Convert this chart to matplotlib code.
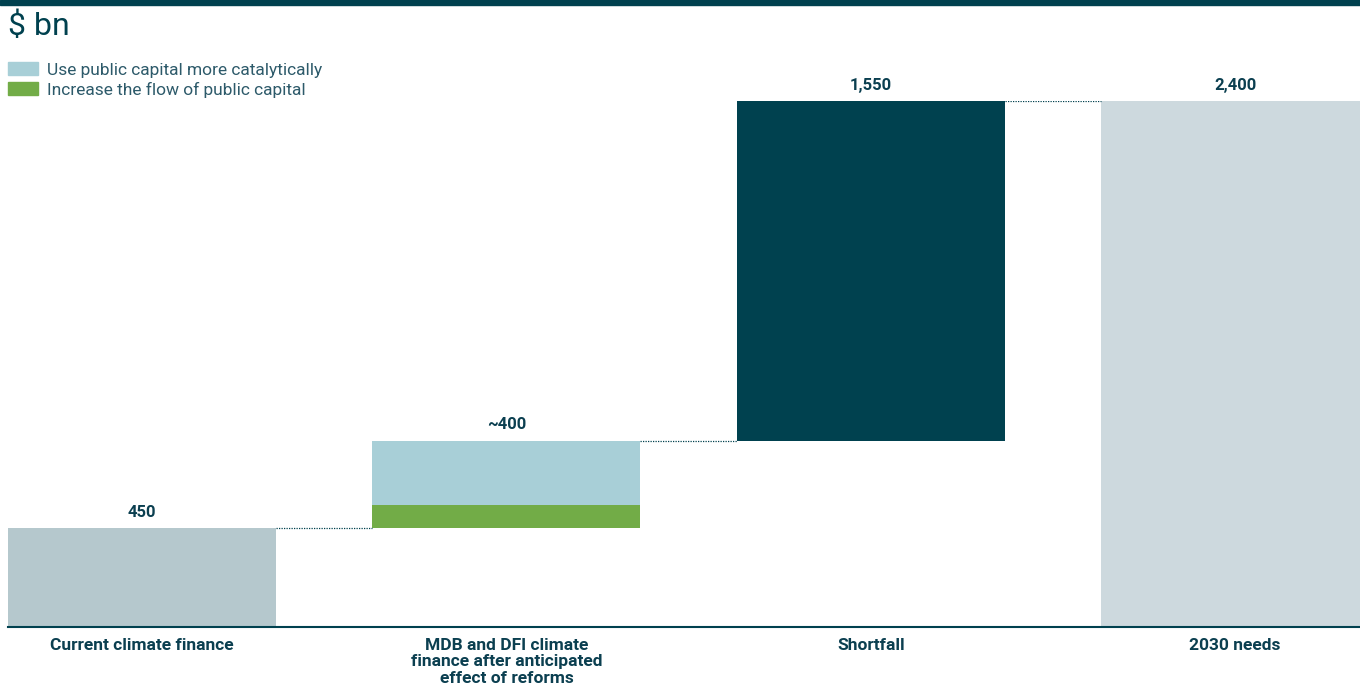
import numpy as np
import matplotlib
matplotlib.use("Agg")
import matplotlib.pyplot as plt
from matplotlib.patches import Patch

# ---- data ($ bn) ----
categories = ["Current climate finance",
              "MDB and DFI climate\nfinance after anticipated\neffect of reforms",
              "Shortfall", "2030 needs"]
current = 450
increase_flow = 105      # green part of the MDB/DFI step
catalytic = 295          # light blue part of the MDB/DFI step
shortfall = 1550
needs_2030 = 2400
value_labels = ["450", "~400", "1,550", "2,400"]

DARK = "#00414f"
TXT = "#0b3f50"
c_current, c_cat, c_flow, c_short, c_needs = "#b5c8cd", "#a8cfd7", "#72ac47", "#00414f", "#cdd9de"

plt.rcParams["font.family"] = ["Liberation Sans Narrow", "Roboto", "DejaVu Sans"]

fig = plt.figure(figsize=(13.6, 6.86), dpi=100)
ax = fig.add_axes([8 / 1360, 1 - 627 / 686, 1 - 8 / 1360, (627 - 101) / 686])

x = np.arange(len(categories))
w = 0.736
mdb_top = current + increase_flow + catalytic
ax.bar(x[0], current, w, color=c_current)
ax.bar(x[1], increase_flow, w, bottom=current, color=c_flow)
ax.bar(x[1], catalytic, w, bottom=current + increase_flow, color=c_cat)
ax.bar(x[2], shortfall, w, bottom=mdb_top, color=c_short)
ax.bar(x[3], needs_2030, w, color=c_needs)

# dotted connectors between steps
levels = [current, mdb_top, mdb_top + shortfall]
for i, lv in enumerate(levels):
    ax.plot([x[i] + w / 2, x[i + 1] - w / 2], [lv, lv], ls=(0, (1, 1)), lw=0.9, color=DARK)

tops = [current, mdb_top, mdb_top + shortfall, needs_2030]
for i, (t, lab) in enumerate(zip(tops, value_labels)):
    ax.annotate(lab, (x[i], t), xytext=(0, 6), textcoords="offset points",
                ha="center", va="bottom", fontsize=12, fontweight="bold", color=TXT,
                annotation_clip=False)

for i, cat in enumerate(categories):
    ax.annotate(cat, (x[i], 0), xytext=(0, -8), textcoords="offset points",
                ha="center", va="top", fontsize=12.5, fontweight="bold", color=TXT,
                linespacing=1.1, annotation_clip=False)

ax.set_xlim(-w / 2, (1360 - 141.5) / 364.5)
ax.set_ylim(0, needs_2030)
for s in ["top", "right", "left"]:
    ax.spines[s].set_visible(False)
ax.spines["bottom"].set_color(DARK)
ax.spines["bottom"].set_linewidth(1.5)
ax.set_xticks([]); ax.set_yticks([])

# header bar and unit label
fig.patches.append(plt.Rectangle((0, 1 - 5 / 686), 1, 5 / 686, transform=fig.transFigure,
                                 color=DARK, zorder=5))
fig.text(8 / 1360, 1 - 26 / 686, "$ bn", fontsize=23, color=DARK, va="center", ha="left",
         family=["Roboto", "DejaVu Sans"])

handles = [Patch(color=c_cat, label="Use public capital more catalytically"),
           Patch(color=c_flow, label="Increase the flow of public capital")]
fig.legend(handles=handles, loc="upper left", bbox_to_anchor=(8 / 1360, 1 - 62 / 686),
           frameon=False, handlelength=1.75, handleheight=0.8,
           handletextpad=0.5, labelspacing=0.22, labelcolor="#2d5a6a",
           borderpad=0, borderaxespad=0,
           prop={"family": ["Roboto", "DejaVu Sans"], "size": 12.5})

fig.savefig("out.png", dpi=100)
